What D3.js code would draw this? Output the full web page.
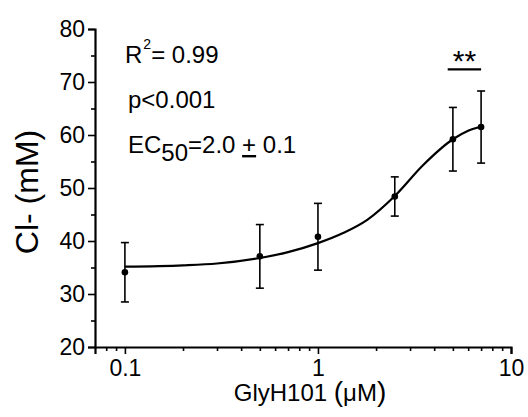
<!DOCTYPE html>
<html>
<head>
<meta charset="utf-8">
<script src="https://cdn.jsdelivr.net/npm/d3@7"></script>
<style>
    body { margin: 0; background: #fff; }
    text { font-family: Arial, 'Liberation Sans', sans-serif; fill: #000; }
</style>
</head>
<body>
<div id="chart"></div>
<script>
// Measured points (GlyH101 concentration in uM)
const concentrations = [0.1, 0.5, 1, 2.5, 5, 7];
const chlorideMeans = [34.1, 37.1, 40.8, 48.4, 59.2, 61.5];
const chlorideErrors = [5.6, 6.0, 6.3, 3.7, 6.0, 6.8];

// Fitted curve
const fitConc = [0.1, 0.2, 0.3, 0.5, 0.7, 1, 1.35, 1.8, 2.5, 3.5, 5, 6, 7];
const fitChloride = [35.15, 35.4, 35.75, 36.8, 37.9, 39.6, 41.5, 44.0, 48.5, 54.3, 59.2, 60.8, 61.6];

// Axis ticks
const xMajorTicks = [0.1, 1, 10];
const xMinorTicks = [0.08, 0.09, 0.2, 0.3, 0.4, 0.5, 0.6, 0.7, 0.8, 0.9, 2, 3, 4, 5, 6, 7, 8, 9];
const yMajorTicks = [20, 30, 40, 50, 60, 70, 80];
const yMinorTicks = [25, 35, 45, 55, 65, 75];

// Significance bar over the two highest doses
const sigRange = [4.7, 7.0];
const sigLevel = 72.4;

class DoseResponse {
    constructor(_config) {
        this.config = {
            parentElement: _config.parentElement,
            containerWidth: _config.containerWidth,
            containerHeight: _config.containerHeight,
            margin: _config.margin
        };
        this.initVis();
    }

    initVis() {
        let vis = this;
        vis.width = vis.config.containerWidth - vis.config.margin.left - vis.config.margin.right;
        vis.height = vis.config.containerHeight - vis.config.margin.top - vis.config.margin.bottom;

        vis.svg = d3.select(vis.config.parentElement).append('svg')
            .attr('width', vis.config.containerWidth)
            .attr('height', vis.config.containerHeight);

        vis.chart = vis.svg.append('g')
            .attr('transform', `translate(${vis.config.margin.left},${vis.config.margin.top})`);

        vis.xScale = d3.scaleLog().domain([0.07, 10]).range([0, vis.width]);
        vis.yScale = d3.scaleLinear().domain([20, 80]).range([vis.height, 0]);

        vis.renderVis();
    }

    renderVis() {
        let vis = this;
        const x = vis.xScale, y = vis.yScale;

        // x axis: major + minor ticks
        vis.chart.append('g')
            .attr('transform', `translate(0,${vis.height})`)
            .call(d3.axisBottom(x).tickValues(xMajorTicks).tickFormat(d3.format('')).tickSize(7).tickPadding(6));
        vis.chart.append('g')
            .attr('transform', `translate(0,${vis.height})`)
            .call(d3.axisBottom(x).tickValues(xMinorTicks).tickFormat('').tickSize(4))
            .call(g => g.select('.domain').remove());

        // y axis: major + minor ticks
        vis.chart.append('g')
            .call(d3.axisLeft(y).tickValues(yMajorTicks).tickSize(7).tickPadding(3));
        vis.chart.append('g')
            .call(d3.axisLeft(y).tickValues(yMinorTicks).tickFormat('').tickSize(4))
            .call(g => g.select('.domain').remove());

        vis.svg.selectAll('.domain').attr('stroke-width', 2.2).attr('stroke', '#000');
        vis.svg.selectAll('.tick line').attr('stroke-width', 1.6).attr('stroke', '#000');
        vis.svg.selectAll('.tick text').attr('font-size', 23).attr('fill', '#000')
            .attr('font-family', "Arial, 'Liberation Sans', sans-serif");

        // fitted curve
        const line = d3.line()
            .x((d, i) => x(fitConc[i]))
            .y(d => y(d))
            .curve(d3.curveMonotoneX);
        vis.chart.append('path')
            .datum(fitChloride)
            .attr('d', line)
            .attr('fill', 'none')
            .attr('stroke', '#000')
            .attr('stroke-width', 2.2);

        // error bars
        const points = concentrations.map((c, i) => ({c: c, m: chlorideMeans[i], e: chlorideErrors[i]}));
        const bars = vis.chart.selectAll('.err')
            .data(points)
            .join('g')
            .attr('class', 'err');
        bars.append('line')
            .attr('x1', d => x(d.c)).attr('x2', d => x(d.c))
            .attr('y1', d => y(d.m + d.e)).attr('y2', d => y(d.m - d.e));
        bars.append('line')
            .attr('x1', d => x(d.c) - 4).attr('x2', d => x(d.c) + 4)
            .attr('y1', d => y(d.m + d.e)).attr('y2', d => y(d.m + d.e));
        bars.append('line')
            .attr('x1', d => x(d.c) - 4).attr('x2', d => x(d.c) + 4)
            .attr('y1', d => y(d.m - d.e)).attr('y2', d => y(d.m - d.e));
        bars.selectAll('line').attr('stroke', '#000').attr('stroke-width', 1.6);

        vis.chart.selectAll('.dot')
            .data(points)
            .join('circle')
            .attr('class', 'dot')
            .attr('cx', d => x(d.c))
            .attr('cy', d => y(d.m))
            .attr('r', 3.3)
            .attr('fill', '#000');

        // significance marker
        vis.chart.append('line')
            .attr('x1', x(sigRange[0])).attr('x2', x(sigRange[1]))
            .attr('y1', y(sigLevel)).attr('y2', y(sigLevel))
            .attr('stroke', '#000').attr('stroke-width', 2.2);
        vis.chart.append('text')
            .attr('x', (x(sigRange[0]) + x(sigRange[1])) / 2)
            .attr('y', y(sigLevel) + 2)
            .attr('text-anchor', 'middle')
            .attr('font-size', 30)
            .text('**');

        // stats text
        const r2 = vis.svg.append('text').attr('x', 125).attr('y', 63).attr('font-size', 24);
        r2.append('tspan').text('R');
        r2.append('tspan').attr('font-size', 14).attr('dy', -14).attr('dx', 1).text('2');
        r2.append('tspan').attr('dy', 14).text('= 0.99');

        vis.svg.append('text').attr('x', 128).attr('y', 108).attr('font-size', 24).text('p<0.001');

        const ec = vis.svg.append('text').attr('x', 128).attr('y', 153).attr('font-size', 24);
        ec.append('tspan').text('EC');
        ec.append('tspan').attr('dy', 8).text('50');
        ec.append('tspan').attr('dy', -8).text('=2.0 ');
        ec.append('tspan').style('text-decoration', 'underline').text('+');
        ec.append('tspan').text(' 0.1');

        // axis titles
        vis.svg.append('text')
            .attr('transform', 'translate(38,192) rotate(-90)')
            .attr('text-anchor', 'middle')
            .attr('font-size', 32)
            .text('Cl- (mM)');
        const xt = vis.svg.append('text')
            .attr('x', 310).attr('y', 401)
            .attr('text-anchor', 'middle')
            .attr('font-size', 24);
        xt.append('tspan').text('GlyH101 ');
        xt.append('tspan').attr('font-size', 28).text('(');
        xt.append('tspan').text('\u03bcM');
        xt.append('tspan').attr('font-size', 28).text(')');
    }
}

const chart = new DoseResponse({
    parentElement: '#chart',
    containerWidth: 528,
    containerHeight: 417,
    margin: {top: 29, right: 17, bottom: 70, left: 95}
});
</script>
</body>
</html>
